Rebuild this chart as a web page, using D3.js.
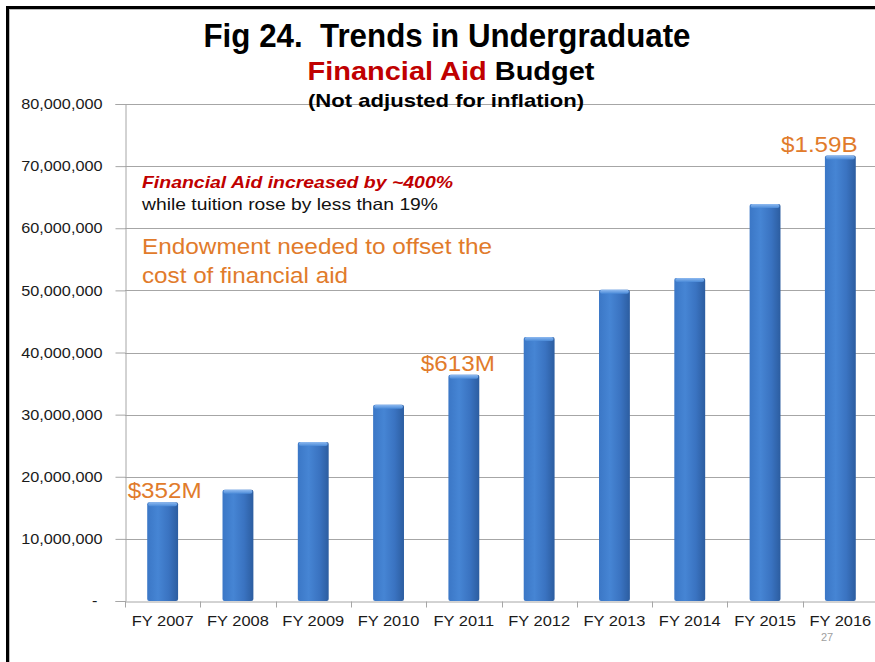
<!DOCTYPE html>
<html>
<head>
<meta charset="utf-8">
<script src="https://cdn.jsdelivr.net/npm/d3@7/dist/d3.min.js"></script>
<style>
  html, body { margin: 0; padding: 0; background: #fff; }
  svg { display: block; }
  text { white-space: pre; }
</style>
</head>
<body>
<svg id="chart" width="875" height="662"></svg>
<script>
// Undergraduate financial aid budget by fiscal year (USD, nominal)
const categories = ["FY 2007", "FY 2008", "FY 2009", "FY 2010", "FY 2011",
                    "FY 2012", "FY 2013", "FY 2014", "FY 2015", "FY 2016"];
const aidBudget = [15900000, 17900000, 25600000, 31600000, 36400000,
                   42500000, 50100000, 52000000, 63900000, 71700000];
const yTicks = [0, 10000000, 20000000, 30000000, 40000000,
                50000000, 60000000, 70000000, 80000000];
// Cumulative figures called out above selected bars
const calloutYears = ["FY 2007", "FY 2011", "FY 2016"];
const calloutText = ["$352M", "$613M", "$1.59B"];

const svg = d3.select("#chart");
const W = 875, H = 662;
const plot = { left: 125, right: 878, top: 104, bottom: 601 };
const sans = "Liberation Sans, Arial, Helvetica, sans-serif";
const orange = "#E17B2B";

// widen glyphs horizontally by factor k (the slide's text is set slightly wide)
function stretch(sel, k) {
  sel.each(function () {
    const w = this.getComputedTextLength();
    d3.select(this).attr("textLength", w * k).attr("lengthAdjust", "spacingAndGlyphs");
  });
}

// slide frame: thick dark rule on top and left
const frame = svg.append("g");
frame.append("line").attr("x1", 6).attr("x2", W).attr("y1", 7.5).attr("y2", 7.5)
  .attr("stroke", "#000").attr("stroke-width", 3);
frame.append("line").attr("x1", 7.5).attr("x2", 7.5).attr("y1", 6).attr("y2", H)
  .attr("stroke", "#000").attr("stroke-width", 3);
frame.append("line").attr("x1", 9).attr("x2", W).attr("y1", 9.5).attr("y2", 9.5)
  .attr("stroke", "#bbb").attr("stroke-width", 1);
frame.append("line").attr("x1", 9.5).attr("x2", 9.5).attr("y1", 9).attr("y2", H)
  .attr("stroke", "#bbb").attr("stroke-width", 1);

const x = d3.scaleBand().domain(categories)
  .range([plot.left, plot.right]).paddingInner(0.59).paddingOuter(0.295);
const y = d3.scaleLinear().domain([0, 80000000]).range([plot.bottom, plot.top]);

// gradients for the bevelled bars
const defs = svg.append("defs");
const g1 = defs.append("linearGradient").attr("id", "barFill")
  .attr("x1", "0").attr("x2", "1").attr("y1", "0").attr("y2", "0");
[["0%", "#3b77c6"], ["35%", "#4685d4"], ["70%", "#3a73c1"], ["100%", "#2c5da0"]]
  .forEach(([o, c]) => g1.append("stop").attr("offset", o).attr("stop-color", c));
const g2 = defs.append("linearGradient").attr("id", "barCap")
  .attr("x1", "0").attr("x2", "0").attr("y1", "0").attr("y2", "1");
[["0%", "#8fbaf0"], ["100%", "#4a8ad8"]]
  .forEach(([o, c]) => g2.append("stop").attr("offset", o).attr("stop-color", c));

// gridlines
svg.append("g").selectAll("line").data(yTicks.filter(d => d > 0)).join("line")
  .attr("x1", plot.left).attr("x2", W)
  .attr("y1", d => Math.round(y(d)) + 0.5).attr("y2", d => Math.round(y(d)) + 0.5)
  .attr("stroke", "#a6a6a6").attr("stroke-width", 1);

// y axis
const yAxis = svg.append("g").attr("transform", `translate(${plot.left + 0.5},0)`)
  .call(d3.axisLeft(y).tickValues(yTicks).tickSize(10).tickPadding(13)
    .tickFormat(d => d === 0 ? "-" : d3.format(",")(d)));
yAxis.select(".domain").attr("stroke", "#a6a6a6");
yAxis.selectAll(".tick line").attr("stroke", "#a6a6a6");
yAxis.selectAll("text").attr("font-family", sans).attr("font-size", 14.5).attr("fill", "#1a1a1a")
  .attr("dx", d => d === 0 ? -5 : 0).call(stretch, 1.12);

// x axis
const xAxis = svg.append("g").attr("transform", `translate(0,${Math.round(plot.bottom) + 0.5})`)
  .call(d3.axisBottom(x).tickSize(0).tickPadding(13));
xAxis.select(".domain").attr("stroke", "#a6a6a6");
xAxis.selectAll("text").attr("font-family", sans).attr("font-size", 15.5).attr("fill", "#1a1a1a")
  .call(stretch, 1.06);
const step = x.step();
const bounds = d3.range(categories.length + 1).map(i => plot.left + i * step);
xAxis.selectAll(".bound").data(bounds).join("line").attr("class", "bound")
  .attr("x1", d => Math.round(d) + 0.5).attr("x2", d => Math.round(d) + 0.5)
  .attr("y1", 0).attr("y2", 6).attr("stroke", "#a6a6a6");

// bars
const bars = svg.append("g").selectAll("g").data(categories.map((c, i) => ({ c, v: aidBudget[i] })))
  .join("g");
bars.append("rect")
  .attr("x", d => x(d.c)).attr("width", x.bandwidth())
  .attr("y", d => y(d.v)).attr("height", d => y(0) - y(d.v))
  .attr("rx", 2).attr("fill", "url(#barFill)");
bars.append("rect")
  .attr("x", d => x(d.c) + 1).attr("width", x.bandwidth() - 2)
  .attr("y", d => y(d.v)).attr("height", 4)
  .attr("rx", 2).attr("fill", "url(#barCap)");

// callout labels above bars; the last one is nudged left to stay inside the slide
const calloutShift = [2, -6, -21];
svg.append("g").selectAll("text").data(calloutYears).join("text")
  .attr("x", (d, i) => x(d) + x.bandwidth() / 2 + calloutShift[i])
  .attr("y", d => y(aidBudget[categories.indexOf(d)]) - 4)
  .attr("text-anchor", "middle")
  .attr("font-family", sans).attr("font-size", 22).attr("fill", orange)
  .text((d, i) => calloutText[i])
  .call(stretch, 1.1);

// titles
const title = svg.append("g").attr("font-family", sans).attr("font-weight", "bold")
  .attr("text-anchor", "middle");
title.append("text").attr("x", 447).attr("y", 47).attr("font-size", 33).attr("fill", "#000")
  .attr("textLength", 487).attr("lengthAdjust", "spacingAndGlyphs")
  .text("Fig 24.  Trends in Undergraduate");
const t2 = title.append("text").attr("x", 451).attr("y", 80).attr("font-size", 25.5)
  .attr("textLength", 287).attr("lengthAdjust", "spacingAndGlyphs");
t2.append("tspan").attr("fill", "#C00000").text("Financial Aid");
t2.append("tspan").attr("fill", "#000").text(" Budget");
title.append("text").attr("x", 446).attr("y", 107).attr("font-size", 18.5).attr("fill", "#000")
  .attr("textLength", 276).attr("lengthAdjust", "spacingAndGlyphs")
  .text("(Not adjusted for inflation)");

// annotation block
const note = svg.append("g").attr("font-family", sans).attr("lengthAdjust", "spacingAndGlyphs");
note.append("text").attr("x", 142).attr("y", 188).attr("font-size", 17)
  .attr("font-weight", "bold").attr("font-style", "italic").attr("fill", "#C00000")
  .attr("textLength", 311).attr("lengthAdjust", "spacingAndGlyphs")
  .text("Financial Aid increased by ~400%");
note.append("text").attr("x", 142).attr("y", 210).attr("font-size", 16.5).attr("fill", "#111")
  .attr("textLength", 296).attr("lengthAdjust", "spacingAndGlyphs")
  .text("while tuition rose by less than 19%");
note.append("text").attr("x", 142).attr("y", 254).attr("font-size", 22).attr("fill", orange)
  .attr("textLength", 350).attr("lengthAdjust", "spacingAndGlyphs")
  .text("Endowment needed to offset the");
note.append("text").attr("x", 142).attr("y", 283).attr("font-size", 22).attr("fill", orange)
  .attr("textLength", 206).attr("lengthAdjust", "spacingAndGlyphs")
  .text("cost of financial aid");

// slide number
svg.append("text").attr("x", 827).attr("y", 641).attr("text-anchor", "middle")
  .attr("font-family", sans).attr("font-size", 11).attr("fill", "#a0a0a0").text("27");
</script>
</body>
</html>
